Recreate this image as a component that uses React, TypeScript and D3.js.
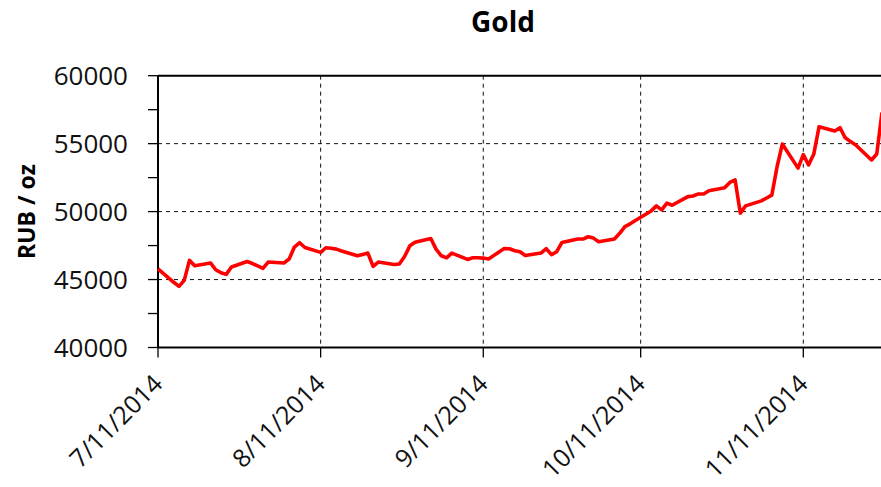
import React, { useEffect, useRef } from "react";
import * as d3 from "d3";

// Gold price in RUB per ounce, trading days Jul 11 - Nov 26 2014
const dates = [
    "2014-07-11", "2014-07-14", "2014-07-15", "2014-07-16", "2014-07-17", "2014-07-18",
    "2014-07-21", "2014-07-22", "2014-07-23", "2014-07-24", "2014-07-25",
    "2014-07-28", "2014-07-29", "2014-07-30", "2014-07-31", "2014-08-01",
    "2014-08-04", "2014-08-05", "2014-08-06", "2014-08-07", "2014-08-08",
    "2014-08-11", "2014-08-12", "2014-08-13", "2014-08-14", "2014-08-15",
    "2014-08-18", "2014-08-19", "2014-08-20", "2014-08-21", "2014-08-22",
    "2014-08-25", "2014-08-26", "2014-08-27", "2014-08-28", "2014-08-29",
    "2014-09-01", "2014-09-02", "2014-09-03", "2014-09-04", "2014-09-05",
    "2014-09-08", "2014-09-09", "2014-09-10", "2014-09-11", "2014-09-12",
    "2014-09-15", "2014-09-16", "2014-09-17", "2014-09-18", "2014-09-19",
    "2014-09-22", "2014-09-23", "2014-09-24", "2014-09-25", "2014-09-26",
    "2014-09-29", "2014-09-30", "2014-10-01", "2014-10-02", "2014-10-03",
    "2014-10-06", "2014-10-07", "2014-10-08", "2014-10-09", "2014-10-10",
    "2014-10-13", "2014-10-14", "2014-10-15", "2014-10-16", "2014-10-17",
    "2014-10-20", "2014-10-21", "2014-10-22", "2014-10-23", "2014-10-24",
    "2014-10-27", "2014-10-28", "2014-10-29", "2014-10-30", "2014-10-31",
    "2014-11-03", "2014-11-04", "2014-11-05", "2014-11-06", "2014-11-07",
    "2014-11-10", "2014-11-11", "2014-11-12", "2014-11-13", "2014-11-14",
    "2014-11-17", "2014-11-18", "2014-11-19", "2014-11-20", "2014-11-21",
    "2014-11-24", "2014-11-25", "2014-11-26",
];

const prices = [
    45780, 44800, 44500, 44940, 46410, 46020,
    46220, 45720, 45500, 45380, 45920,
    46330, 46180, 46000, 45820, 46290,
    46220, 46510, 47390, 47710, 47360,
    47000, 47340, 47300, 47240, 47100,
    46750, 46850, 46950, 45970, 46290,
    46110, 46150, 46700, 47480, 47750,
    48020, 47240, 46750, 46600, 46950,
    46480, 46600, 46600, 46580, 46510,
    47290, 47270, 47120, 47050, 46770,
    46950, 47270, 46830, 47050, 47730,
    47980, 47980, 48150, 48050, 47780,
    47990, 48400, 48900, 49100, 49350,
    50050, 50420, 50130, 50620, 50470,
    51100, 51150, 51300, 51300, 51540,
    51750, 52150, 52330, 49890, 50420,
    50790, 51000, 51210, 53300, 54970,
    53200, 54190, 53430, 54240, 56240,
    55930, 56170, 55430, 55150, 54900,
    53800, 54240, 57300,
];

const xTickDates = ["2014-07-11", "2014-08-11", "2014-09-11", "2014-10-11", "2014-11-11"];
const xTickLabels = ["7/11/2014", "8/11/2014", "9/11/2014", "10/11/2014", "11/11/2014"];
const yTicks = [40000, 45000, 50000, 55000, 60000];

const App: React.FC = () => {
    const ref = useRef<SVGSVGElement>(null);

    useEffect(() => {
        const svg = d3.select(ref.current);
        svg.selectAll("*").remove();

        const left = 158, top = 75.7, bottom = 347.5, right = 882;
        const parse = d3.timeParse("%Y-%m-%d");
        const data = dates.map((d, i) => ({ date: parse(d)!, value: prices[i] }));

        const x = d3.scaleTime()
            .domain([parse("2014-07-11")!, parse("2014-11-26")!])
            .range([left, right]);
        const y = d3.scaleLinear().domain([40000, 60000]).range([bottom, top]);

        const font = "'Open Sans', sans-serif";

        // grid lines
        svg.append("g")
            .selectAll("line")
            .data(yTicks.slice(1, -1))
            .enter()
            .append("line")
            .attr("x1", left).attr("x2", right)
            .attr("y1", (d) => y(d)).attr("y2", (d) => y(d))
            .attr("stroke", "#111").attr("stroke-width", 1)
            .attr("stroke-dasharray", "4,4");

        svg.append("g")
            .selectAll("line")
            .data(xTickDates.slice(1))
            .enter()
            .append("line")
            .attr("x1", (d) => x(parse(d)!)).attr("x2", (d) => x(parse(d)!))
            .attr("y1", top).attr("y2", bottom)
            .attr("stroke", "#111").attr("stroke-width", 1)
            .attr("stroke-dasharray", "4,4");

        // frame
        svg.append("line").attr("x1", left).attr("x2", right).attr("y1", top).attr("y2", top)
            .attr("stroke", "#000").attr("stroke-width", 2);
        svg.append("line").attr("x1", left).attr("x2", right).attr("y1", bottom).attr("y2", bottom)
            .attr("stroke", "#000").attr("stroke-width", 2);
        svg.append("line").attr("x1", left).attr("x2", left).attr("y1", top).attr("y2", bottom)
            .attr("stroke", "#000").attr("stroke-width", 2);

        // y ticks (major + minor)
        const minor = d3.range(40000, 60001, 2500);
        svg.append("g")
            .selectAll("line")
            .data(minor)
            .enter()
            .append("line")
            .attr("x1", left - 10).attr("x2", left)
            .attr("y1", (d) => y(d)).attr("y2", (d) => y(d))
            .attr("stroke", "#000").attr("stroke-width", 1.3);

        svg.append("g")
            .selectAll("text")
            .data(yTicks)
            .enter()
            .append("text")
            .attr("x", left - 30)
            .attr("y", (d) => y(d))
            .attr("dy", "0.35em")
            .attr("text-anchor", "end")
            .style("font-family", font)
            .style("font-size", "26px")
            .attr("fill", "#111")
            .text((d) => String(d));

        // x ticks
        svg.append("g")
            .selectAll("line")
            .data(xTickDates)
            .enter()
            .append("line")
            .attr("x1", (d) => x(parse(d)!)).attr("x2", (d) => x(parse(d)!))
            .attr("y1", bottom).attr("y2", bottom + 10)
            .attr("stroke", "#000").attr("stroke-width", 1.3);

        svg.append("g")
            .selectAll("text")
            .data(xTickDates)
            .enter()
            .append("text")
            .attr("transform", (d) => `translate(${x(parse(d)!) + 6},${bottom + 38}) rotate(-45)`)
            .attr("text-anchor", "end")
            .style("font-family", font)
            .style("font-size", "25px")
            .attr("fill", "#111")
            .text((d, i) => xTickLabels[i]);

        // price line
        const line = d3.line<{ date: Date; value: number }>()
            .x((d) => x(d.date))
            .y((d) => y(d.value));

        svg.append("path")
            .datum(data)
            .attr("d", line)
            .attr("fill", "none")
            .attr("stroke", "#ff0000")
            .attr("stroke-width", 3.6)
            .attr("stroke-linejoin", "round");

        // title + y label
        svg.append("text")
            .attr("x", 503).attr("y", 32)
            .attr("text-anchor", "middle")
            .style("font-family", font)
            .style("font-size", "28px")
            .style("font-weight", "bold")
            .text("Gold");

        svg.append("text")
            .attr("transform", `translate(35,${(top + bottom) / 2}) rotate(-90)`)
            .attr("text-anchor", "middle")
            .style("font-family", font)
            .style("font-size", "23px")
            .style("font-weight", "bold")
            .text("RUB / oz");
    }, []);

    return (
        <svg
            ref={ref}
            width={881}
            height={487}
            style={{ position: "absolute", left: 0, top: 0, background: "#fff" }}
        ></svg>
    );
};

export default App;
